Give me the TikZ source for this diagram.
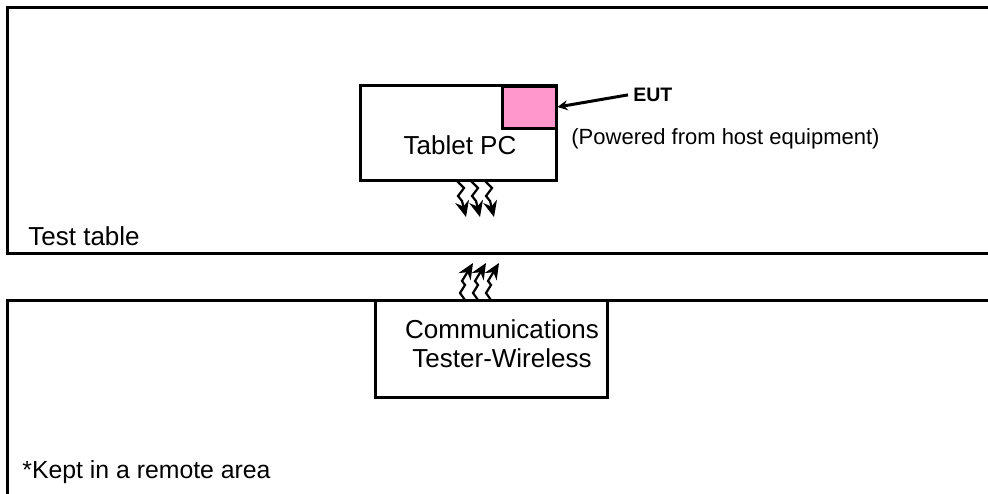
\documentclass[tikz,border=0pt]{standalone}
\usepackage{fontspec}
\setmainfont{Liberation Sans}
\usetikzlibrary{positioning, arrows.meta}

\definecolor{eutpink}{RGB}{255,150,204}

\begin{document}
\begin{tikzpicture}[x=0.5pt, y=-0.5pt,
    frame/.style={line width=1.5pt},
    box/.style={draw, line width=1.5pt, fill=white, inner sep=0pt},
    label/.style={inner sep=0pt, font=\fontsize{13}{15}\selectfont},
    wave/.style={line width=1.1pt, -{Stealth[length=8pt, width=7pt]}}]
    \useasboundingbox (0,0) rectangle (988,493);

    % Draw test table and remote area
    \draw[frame] (1000,7) -- (7,7) -- (7,253) -- (1000,253);
    \draw[frame] (1000,300) -- (7,300) -- (7,500);
    \node[label, anchor=base west] (table) at (28,245.5) {Test table};
    \node[label, anchor=base west, font=\fontsize{12.4}{15}\selectfont] (remote) at (22,478) {*Kept in a remote area};

    % Tablet PC and EUT
    \node[box, minimum width=98pt, minimum height=47.5pt] (tablet) at (458,132.5) {};
    \node[label, anchor=base] (tabletlabel) at (460,154) {Tablet PC};
    \node[box, fill=eutpink, minimum width=27pt, minimum height=21pt] (eut) at (529,107) {};
    \node[inner sep=0pt, anchor=base west, font=\fontsize{9.75}{11}\selectfont\bfseries] (eutlabel) at (633,101.5) {EUT};
    \node[inner sep=0pt, anchor=base west, font=\fontsize{11}{13}\selectfont] (power) at (571,144) {(Powered from host equipment)};
    \draw[line width=1.5pt, -{Stealth[length=5pt, width=5pt]}] (eutlabel.west) ++(-5,0) coordinate (eutfrom) (eutfrom) -- (eut.east);

    % Communications tester
    \node[box, minimum width=116pt, minimum height=48.5pt] (tester) at (491,348.5) {};
    \node[label, align=center, font=\fontsize{13}{14.5}\selectfont, anchor=base] (testerlabel) at (502,367) {Communications\\Tester-Wireless};

    % Draw radio links
    \foreach \i/\x in {1/457, 2/471, 3/485} {
      \coordinate (down\i) at (\x,181);
      \coordinate (downtip\i) at (\x+9,217);
      \draw[wave] (down\i) -- ++(7,7) -- ++(-6,8) -- ++(4,5) -- (downtip\i);
    }
    \foreach \i/\x in {1/465, 2/478, 3/491} {
      \coordinate (up\i) at (\x,300);
      \coordinate (uptip\i) at (\x+8,263);
      \draw[wave] (up\i) -- ++(-5,-7) -- ++(5,-8) -- ++(-3,-4) -- (uptip\i);
    }
\end{tikzpicture}
\end{document}
